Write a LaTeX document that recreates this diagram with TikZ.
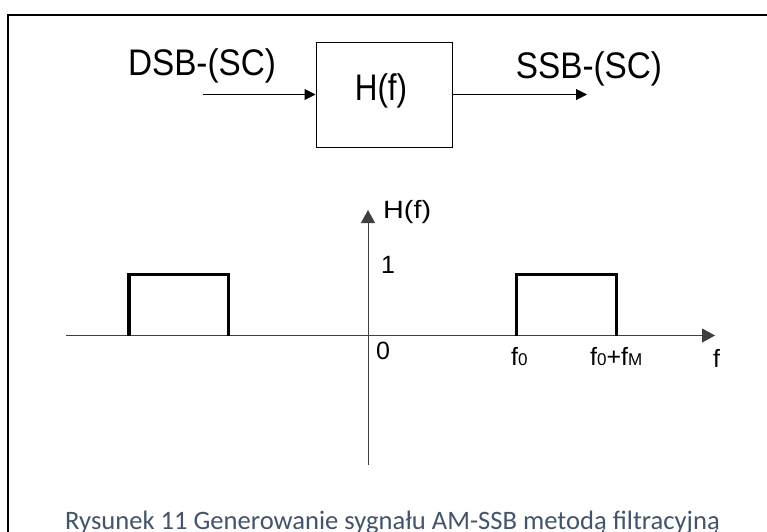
\documentclass[tikz,border=0pt]{standalone}
\usepackage{fontspec}
\setmainfont{Liberation Sans}
\newfontfamily\capfont{Carlito}
\usetikzlibrary{arrows.meta}
\definecolor{capblue}{HTML}{44546A}
\definecolor{axgray}{HTML}{404040}
\tikzset{
  blk/.style={draw=black,line width=1pt,minimum width=136pt,minimum height=105pt,inner sep=0pt},
  sig/.style={line width=1pt,-{Triangle[length=11pt,width=11pt]}},
  ax/.style={draw=axgray,line width=1pt,-{Triangle[length=13pt,width=14pt]}},
  band/.style={line width=3.3pt,line cap=butt,line join=miter},
  big/.style={inner sep=0pt,font=\fontsize{37}{37}\selectfont,xscale=0.9},
  lab/.style={inner sep=0pt,font=\fontsize{25}{25}\selectfont},
  caption/.style={inner sep=0pt,anchor=base west,text=capblue,font=\capfont\fontsize{26.6}{26.6}\selectfont}
}
\begin{document}
\begin{tikzpicture}[x=1pt,y=-1pt]
\useasboundingbox (0,0) rectangle (767,531);
\clip (0,0) rectangle (767,531);
\fill[white] (0,0) rectangle (767,531);
% frame (open to the right and bottom)
\draw[line width=2pt] (7.5,600) -- (7.5,15) -- (800,15);
% block diagram
\node[blk] (box) at (384,94.5) {};
\node[big,anchor=base,xscale=0.85/0.9] (hf) at (381,100) {H(f)};
\node[big,anchor=base] (dsb) at (202,75) {DSB-(SC)};
\node[big,anchor=base] (ssb) at (589,78) {SSB-(SC)};
\coordinate (in1) at (203,94.5);
\coordinate (out1) at (587,94.5);
\draw[sig] (in1) -- (box.west);
\draw[sig] (box.east) -- (out1);
% axes
\coordinate (vb) at (368,465);
\coordinate (vt) at (368,210);
\coordinate (hl) at (66,335.5);
\coordinate (hr) at (715,335.5);
\draw[ax] (vb) -- (vt);
\draw[ax] (hl) -- (hr);
% pass bands
\draw[band] (129,335.5) |- (228.7,274.3) -- (228.7,335.5);
\draw[band] (516.7,335.5) |- (616.7,274.3) -- (616.7,335.5);
% axis labels
\node[lab,anchor=base west,xscale=1.15] (hfl) at (383,218) {H(f)};
\node[lab,anchor=base west] (one) at (381,273) {1};
\node[lab,anchor=base west] (zero) at (376,359) {0};
\node[lab,anchor=base west] (f0) at (511,365) {f{\fontsize{17}{17}\selectfont 0}};
\node[lab,anchor=base west] (f0fm) at (590,365) {f{\fontsize{17}{17}\selectfont 0}+f{\fontsize{17}{17}\selectfont M}};
\node[lab,anchor=base west] (fl) at (713,367) {f};
% caption
\node[caption] (cap) at (65,529) {Rysunek 11 Generowanie sygnału AM-SSB metodą filtracyjną};
\end{tikzpicture}
\end{document}
